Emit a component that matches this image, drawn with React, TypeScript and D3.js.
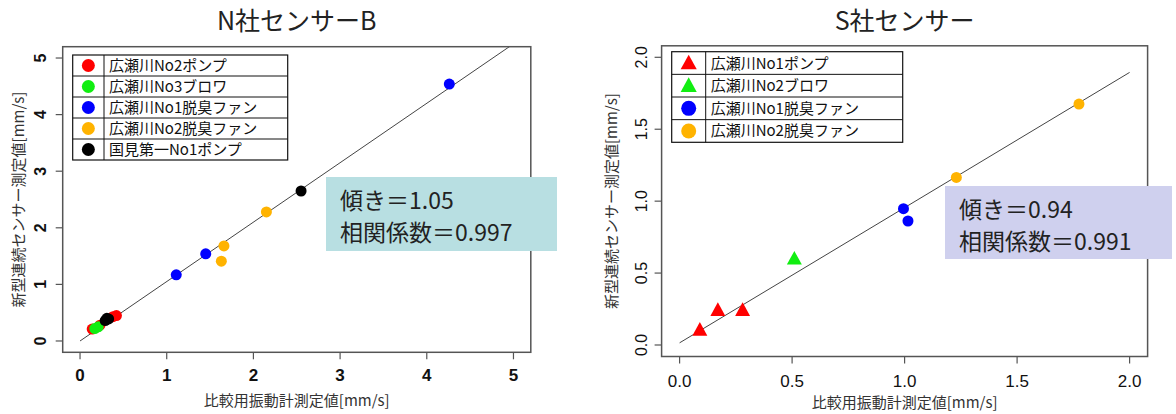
import React from "react";
import * as d3 from "d3";

// N社センサーB
const nPump2X = [0.42, 0.38, 0.14, 0.23];
const nPump2Y = [0.45, 0.43, 0.21, 0.28];
const nBlower3X = [0.17, 0.21];
const nBlower3Y = [0.22, 0.25];
const nFan1X = [4.26, 1.45, 1.11];
const nFan1Y = [4.54, 1.54, 1.17];
const nFan2X = [2.15, 1.66, 1.63];
const nFan2Y = [2.28, 1.68, 1.41];
const nKunimiX = [2.55, 0.29, 0.31, 0.33];
const nKunimiY = [2.65, 0.36, 0.4, 0.39];
const nTicks = [0, 1, 2, 3, 4, 5];

// S社センサー
const sPump1X = [0.09, 0.17, 0.28];
const sPump1Y = [0.105, 0.243, 0.243];
const sBlower2X = [0.51];
const sBlower2Y = [0.6];
const sFan1X = [0.995, 1.015];
const sFan1Y = [0.948, 0.862];
const sFan2X = [1.23, 1.775];
const sFan2Y = [1.165, 1.675];
const sTicks = [0, 0.5, 1.0, 1.5, 2.0];

const FONT_JP = "'Noto Sans CJK JP', 'Noto Sans', sans-serif";
const FONT_NUM = "'Liberation Sans', Arial, sans-serif";

const RED = "#ff0000";
const GREEN = "#11ee11";
const BLUE = "#0000ff";
const ORANGE = "#ffb300";
const BLACK = "#000000";

const zip = (xs, ys) => xs.map((x, i) => ({ x, y: ys[i] }));

const Marker = ({ shape, cx, cy, size, color }) => {
  if (shape === "triangle") {
    const h = size * 1.0;
    const w = size * 1.15;
    return (
      <path
        d={`M${cx},${cy - h * 0.6} L${cx + w / 2},${cy + h * 0.45} L${cx - w / 2},${cy + h * 0.45} Z`}
        fill={color}
      />
    );
  }
  return <circle cx={cx} cy={cy} r={size / 2} fill={color} />;
};

const Panel = ({ cfg }) => {
  const {
    id, title, left, right, top, bottom, domain, ticks, fmt, tickWeight,
    series, fit, legend, box, xTitleY, yTitleX, yTickX, xTickY,
  } = cfg;
  const pad = (domain[1] - domain[0]) * 0.04;
  const x = d3.scaleLinear().domain([domain[0] - pad, domain[1] + pad]).range([left, right]);
  const y = d3.scaleLinear().domain([domain[0] - pad, domain[1] + pad]).range([bottom, top]);
  const line = d3.line().x(d => x(d[0])).y(d => y(d[1]));
  const fitPts = [0, domain[1]].map(v => [v, fit.a + fit.b * v]);
  const midX = (left + right) / 2;
  const midY = (top + bottom) / 2;
  return (
    <g>
      <defs>
        <clipPath id={`clip-${id}`}>
          <rect x={left} y={top} width={right - left} height={bottom - top} />
        </clipPath>
      </defs>
      <text x={midX} y={30} textAnchor="middle" fontFamily={FONT_JP} fontSize={25} fill="#222">
        {title}
      </text>
      <path d={line(fitPts)} stroke="#444" strokeWidth={1} fill="none" clipPath={`url(#clip-${id})`} />
      {series.map((s, si) =>
        zip(s.xs, s.ys).map((p, i) => (
          <Marker key={`${si}-${i}`} shape={s.shape} cx={x(p.x)} cy={y(p.y)} size={s.size} color={s.color} />
        ))
      )}
      <rect x={left} y={top} width={right - left} height={bottom - top} fill="none" stroke="#555" strokeWidth={1.5} />
      {ticks.map(t => (
        <g key={`x${t}`}>
          <line x1={x(t)} x2={x(t)} y1={bottom} y2={bottom + 7} stroke="#555" strokeWidth={1.2} />
          <text x={x(t)} y={xTickY} textAnchor="middle" fontFamily={FONT_NUM} fontSize={17} fontWeight={tickWeight} fill="#111">
            {fmt(t)}
          </text>
        </g>
      ))}
      {ticks.map(t => (
        <g key={`y${t}`}>
          <line x1={left - 7} x2={left} y1={y(t)} y2={y(t)} stroke="#555" strokeWidth={1.2} />
          <text
            transform={`translate(${yTickX},${y(t)}) rotate(-90)`}
            textAnchor="middle"
            fontFamily={FONT_NUM}
            fontSize={16}
            fontWeight={tickWeight}
            fill="#111"
          >
            {fmt(t)}
          </text>
        </g>
      ))}
      <text x={midX} y={xTitleY} textAnchor="middle" fontFamily={FONT_JP} fontSize={15} fill="#333">
        比較用振動計測定値[mm/s]
      </text>
      <text
        transform={`translate(${yTitleX},${midY}) rotate(-90)`}
        textAnchor="middle"
        fontFamily={FONT_JP}
        fontSize={15}
        fill="#333"
      >
        新型連続センサー測定値[mm/s]
      </text>
      <g>
        <rect x={legend.x} y={legend.y} width={legend.w} height={legend.rowH * series.length} fill="#fff" stroke="#111" strokeWidth={1.2} />
        <line x1={legend.div} x2={legend.div} y1={legend.y} y2={legend.y + legend.rowH * series.length} stroke="#111" strokeWidth={1} />
        {series.map((s, i) => {
          const cy = legend.y + legend.rowH * (i + 0.5);
          return (
            <g key={`lg${i}`}>
              {i > 0 && (
                <line x1={legend.x} x2={legend.x + legend.w} y1={legend.y + legend.rowH * i} y2={legend.y + legend.rowH * i} stroke="#111" strokeWidth={1} />
              )}
              <Marker shape={s.shape} cx={(legend.x + legend.div) / 2} cy={cy} size={s.legendSize} color={s.color} />
              <text x={legend.div + 5} y={cy + 5.5} fontFamily={FONT_JP} fontSize={15} fill="#111">
                {s.name}
              </text>
            </g>
          );
        })}
      </g>
      <g>
        <rect x={box.x} y={box.y} width={box.w} height={box.h} fill={box.fill} />
        <text x={box.x + 14} y={box.y + 32} fontFamily={FONT_JP} fontSize={23} fill="#222">
          {box.lines[0]}
        </text>
        <text x={box.x + 14} y={box.y + 64} fontFamily={FONT_JP} fontSize={23} fill="#222">
          {box.lines[1]}
        </text>
      </g>
    </g>
  );
};

const leftCfg = {
  id: "n",
  title: "N社センサーB",
  left: 62.7,
  right: 530.8,
  top: 46.7,
  bottom: 352.3,
  domain: [0, 5],
  ticks: nTicks,
  fmt: d3.format("d"),
  tickWeight: "bold",
  series: [
    { name: "広瀬川No2ポンプ", xs: nPump2X, ys: nPump2Y, color: RED, shape: "circle", size: 11, legendSize: 13 },
    { name: "広瀬川No3ブロワ", xs: nBlower3X, ys: nBlower3Y, color: GREEN, shape: "circle", size: 11, legendSize: 13 },
    { name: "広瀬川No1脱臭ファン", xs: nFan1X, ys: nFan1Y, color: BLUE, shape: "circle", size: 11, legendSize: 13 },
    { name: "広瀬川No2脱臭ファン", xs: nFan2X, ys: nFan2Y, color: ORANGE, shape: "circle", size: 11, legendSize: 13 },
    { name: "国見第一No1ポンプ", xs: nKunimiX, ys: nKunimiY, color: BLACK, shape: "circle", size: 11, legendSize: 13 },
  ],
  fit: { a: 0, b: 1.05 },
  legend: { x: 72.7, y: 55, w: 215, rowH: 21, div: 104 },
  box: { x: 326, y: 177, w: 231, h: 74, fill: "#b8dfe2", lines: ["傾き＝1.05", "相関係数＝0.997"] },
  xTitleY: 406,
  yTitleX: 24,
  yTickX: 46,
  xTickY: 381,
};

const rightCfg = {
  id: "s",
  title: "S社センサー",
  left: 661.6,
  right: 1147.6,
  top: 45.8,
  bottom: 356.5,
  domain: [0, 2],
  ticks: sTicks,
  fmt: d3.format(".1f"),
  tickWeight: "normal",
  series: [
    { name: "広瀬川No1ポンプ", xs: sPump1X, ys: sPump1Y, color: RED, shape: "triangle", size: 13, legendSize: 14 },
    { name: "広瀬川No2ブロワ", xs: sBlower2X, ys: sBlower2Y, color: GREEN, shape: "triangle", size: 13, legendSize: 14 },
    { name: "広瀬川No1脱臭ファン", xs: sFan1X, ys: sFan1Y, color: BLUE, shape: "circle", size: 11, legendSize: 15 },
    { name: "広瀬川No2脱臭ファン", xs: sFan2X, ys: sFan2Y, color: ORANGE, shape: "circle", size: 11, legendSize: 15 },
  ],
  fit: { a: 0.015, b: 0.94 },
  legend: { x: 671.7, y: 51.7, w: 231, rowH: 22.65, div: 705.7 },
  box: { x: 945, y: 186, w: 227, h: 73, fill: "#cfd0ee", lines: ["傾き＝0.94", "相関係数＝0.991"] },
  xTitleY: 408,
  yTitleX: 617,
  yTickX: 647,
  xTickY: 387,
};

export default function App() {
  return (
    <svg width={1176} height={414} style={{ position: "absolute", left: 0, top: 0, background: "#fff" }}>
      <rect width={1176} height={414} fill="#fff" />
      <Panel cfg={leftCfg} />
      <Panel cfg={rightCfg} />
    </svg>
  );
}
